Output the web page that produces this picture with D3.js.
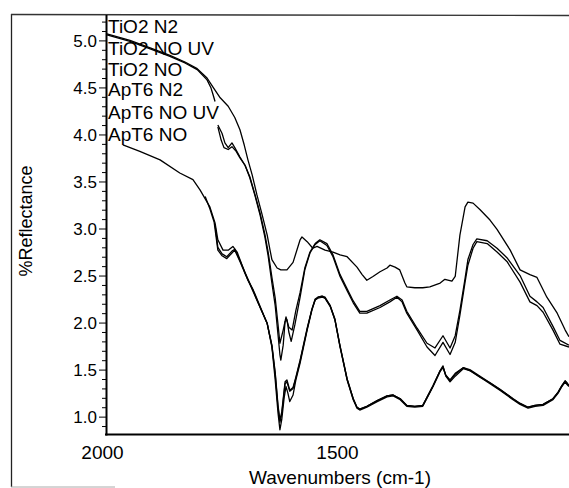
<!DOCTYPE html>
<html>
<head>
<meta charset="utf-8">
<script src="https://cdn.jsdelivr.net/npm/d3@7"></script>
<style>
  html, body { margin: 0; padding: 0; background: #fff; }
  svg { display: block; }
  text { font-family: "Liberation Sans", Arial, sans-serif; fill: #000; }
</style>
</head>
<body>
<svg id="chart" width="569" height="488"></svg>
<script>
// ---- data (wavenumber cm-1, %Reflectance) ----
const seriesNames = ["TiO2 N2", "TiO2 NO UV", "TiO2 NO", "ApT6 N2", "ApT6 NO UV", "ApT6 NO"];

const tio2N2 = [[1998,5.07],[1949,5.00],[1906,4.92],[1864,4.84],[1832,4.77],[1806,4.70],[1785,4.60],[1772,4.50],[1757,4.39],[1740,4.30],[1726,4.18],[1715,4.05],[1706,3.89],[1698,3.73],[1689,3.57],[1679,3.36],[1668,3.15],[1657,2.93],[1651,2.77],[1647,2.67],[1636,2.58],[1628,2.56],[1615,2.56],[1602,2.64],[1587,2.88],[1583,2.91],[1572,2.86],[1560,2.79],[1551,2.81],[1534,2.77],[1517,2.75],[1502,2.72],[1487,2.70],[1466,2.59],[1455,2.51],[1445,2.45],[1432,2.49],[1417,2.54],[1402,2.58],[1396,2.61],[1385,2.59],[1375,2.56],[1364,2.42],[1360,2.38],[1343,2.37],[1326,2.37],[1311,2.38],[1289,2.42],[1279,2.46],[1264,2.44],[1257,2.49],[1247,2.93],[1236,3.23],[1230,3.28],[1219,3.27],[1204,3.20],[1183,3.09],[1168,2.99],[1140,2.77],[1119,2.56],[1098,2.51],[1083,2.48],[1062,2.27],[1040,2.10],[1023,1.92],[1015,1.85]];

const tio2NOUV = [[1998,5.06],[1949,4.99],[1906,4.91],[1864,4.83],[1832,4.76],[1806,4.69],[1785,4.58],[1777,4.50],[1772,4.42],[1768,4.35],[1764,null],[1762,4.10],[1753,4.01],[1747,3.91],[1740,3.86],[1732,3.91],[1726,3.86],[1715,3.76],[1704,3.67],[1694,3.54],[1683,3.35],[1672,3.14],[1662,2.91],[1655,2.71],[1647,2.42],[1640,2.18],[1634,1.87],[1630,1.66],[1628,1.60],[1623,1.76],[1619,2.01],[1615,2.03],[1611,1.90],[1606,1.80],[1598,1.98],[1587,2.27],[1577,2.56],[1566,2.74],[1555,2.83],[1545,2.87],[1530,2.82],[1517,2.70],[1502,2.49],[1487,2.34],[1474,2.21],[1460,2.10],[1445,2.10],[1417,2.16],[1396,2.22],[1381,2.27],[1370,2.22],[1360,2.10],[1338,1.92],[1317,1.74],[1300,1.65],[1283,1.79],[1268,1.66],[1257,1.79],[1247,2.08],[1236,2.43],[1230,2.61],[1219,2.79],[1211,2.86],[1189,2.84],[1168,2.75],[1147,2.65],[1119,2.43],[1098,2.22],[1083,2.18],[1070,2.11],[1049,1.92],[1034,1.77],[1015,1.74]];

const tio2NO = [[1762,4.08],[1755,3.94],[1749,3.86],[1740,3.84],[1732,3.87],[1723,3.82],[1715,3.75],[1704,3.67],[1694,3.55],[1683,3.36],[1672,3.16],[1662,2.94],[1655,2.75],[1647,2.48],[1640,2.26],[1634,1.98],[1630,1.78],[1623,1.92],[1617,2.06],[1611,1.95],[1604,1.92],[1596,2.13],[1587,2.32],[1577,2.58],[1566,2.75],[1555,2.84],[1545,2.88],[1530,2.84],[1517,2.72],[1502,2.51],[1487,2.36],[1474,2.23],[1460,2.12],[1445,2.12],[1417,2.18],[1396,2.24],[1381,2.28],[1370,2.24],[1360,2.12],[1338,1.94],[1317,1.78],[1300,1.73],[1283,1.86],[1268,1.73],[1257,1.86],[1247,2.13],[1236,2.47],[1230,2.67],[1219,2.83],[1211,2.89],[1189,2.87],[1168,2.79],[1147,2.69],[1119,2.50],[1098,2.28],[1083,2.22],[1070,2.16],[1049,1.96],[1034,1.81],[1015,1.76]];

const apT6N2 = [[1964,3.89],[1928,3.82],[1885,3.73],[1843,3.59],[1815,3.52],[1800,3.41],[1779,3.23],[1768,3.06],[1762,2.88],[1751,2.77],[1740,2.77],[1730,2.81],[1721,2.75],[1709,2.59],[1698,2.45],[1687,2.35],[1672,2.17],[1657,1.99],[1647,1.74],[1640,1.39],[1634,1.04],[1630,0.86],[1626,0.97],[1621,1.20],[1617,1.32],[1613,1.25],[1609,1.16],[1602,1.23],[1596,1.39],[1587,1.57],[1572,1.92],[1562,2.13],[1555,2.24],[1549,2.26],[1540,2.27],[1534,2.26],[1523,2.17],[1513,2.03],[1502,1.74],[1487,1.39],[1474,1.18],[1466,1.09],[1460,1.07],[1445,1.10],[1423,1.16],[1402,1.21],[1389,1.22],[1374,1.18],[1360,1.11],[1343,1.10],[1326,1.11],[1304,1.32],[1289,1.48],[1283,1.52],[1277,1.44],[1268,1.39],[1257,1.46],[1240,1.52],[1226,1.49],[1204,1.42],[1183,1.35],[1162,1.28],[1134,1.18],[1119,1.13],[1102,1.09],[1087,1.11],[1070,1.12],[1049,1.18],[1038,1.25],[1030,1.32],[1023,1.37],[1019,1.34],[1015,1.32]];

const apT6NOUV = [[1789,3.34],[1779,3.21],[1770,3.07],[1762,2.77],[1753,2.71],[1743,2.68],[1732,2.74],[1726,2.77],[1715,2.65],[1704,2.52],[1687,2.33],[1672,2.16],[1657,1.99],[1647,1.76],[1640,1.47],[1634,1.12],[1630,0.96],[1626,1.05],[1619,1.37],[1615,1.39],[1609,1.28],[1602,1.31],[1596,1.42],[1587,1.60],[1572,1.94],[1562,2.14],[1555,2.24],[1549,2.27],[1540,2.28],[1534,2.26],[1523,2.18],[1513,2.03],[1502,1.75],[1487,1.40],[1474,1.19],[1466,1.10],[1460,1.08],[1445,1.11],[1423,1.17],[1402,1.22],[1389,1.23],[1374,1.19],[1360,1.12],[1343,1.11],[1326,1.12],[1304,1.33],[1289,1.49],[1283,1.54],[1277,1.43],[1268,1.37],[1257,1.43],[1240,1.51],[1226,1.49],[1204,1.42],[1183,1.36],[1162,1.29],[1134,1.19],[1119,1.14],[1102,1.10],[1087,1.12],[1070,1.13],[1049,1.19],[1038,1.26],[1030,1.33],[1023,1.38],[1019,1.35],[1015,1.33]];

const apT6NO = [[1768,3.04],[1762,2.80],[1753,2.73],[1743,2.70],[1732,2.76],[1726,2.78],[1715,2.66],[1704,2.53],[1687,2.34],[1672,2.16],[1657,1.99],[1647,1.75],[1640,1.45],[1634,1.10],[1630,0.94],[1626,1.03],[1619,1.35],[1615,1.37],[1609,1.27],[1602,1.30],[1596,1.41],[1587,1.59],[1572,1.93],[1562,2.14],[1555,2.25],[1549,2.27],[1540,2.28],[1534,2.27],[1523,2.18],[1513,2.04],[1502,1.75],[1487,1.40],[1474,1.19],[1466,1.10],[1460,1.08],[1445,1.11],[1423,1.17],[1402,1.22],[1389,1.23],[1374,1.19],[1360,1.12],[1343,1.11],[1326,1.12],[1304,1.33],[1289,1.49],[1283,1.53],[1277,1.44],[1268,1.38],[1257,1.45],[1240,1.52],[1226,1.50],[1204,1.43],[1183,1.36],[1162,1.29],[1134,1.19],[1119,1.14],[1102,1.10],[1087,1.12],[1070,1.13],[1049,1.19],[1038,1.26],[1030,1.33],[1023,1.38],[1019,1.36],[1015,1.33]];

const xTickValues = [2000, 1500];
const xTickLabels = ["2000", "1500"];
const yMajorTicks = [1.0, 1.5, 2.0, 2.5, 3.0, 3.5, 4.0, 4.5, 5.0];
const yMinorTicks = [0.9, 1.1, 1.2, 1.3, 1.4, 1.6, 1.7, 1.8, 1.9, 2.1, 2.2, 2.3, 2.4, 2.6, 2.7, 2.8, 2.9, 3.1, 3.2, 3.3, 3.4, 3.6, 3.7, 3.8, 3.9, 4.1, 4.2, 4.3, 4.4, 4.6, 4.7, 4.8, 4.9, 5.1, 5.2];
const xTitle = "Wavenumbers (cm-1)";
const yTitle = "%Reflectance";

// ---- drawing ----
const allSeries = [tio2N2, tio2NOUV, tio2NO, apT6N2, apT6NOUV, apT6NO];
const svg = d3.select("#chart");
const W = 569, H = 488;
const plotLeft = 106, plotTop = 15, plotBottom = 434.5;

svg.append("rect").attr("width", W).attr("height", H).attr("fill", "#fff");

// outer frame
svg.append("line").attr("x1", 11.5).attr("x2", 11.5).attr("y1", 14).attr("y2", 487).attr("stroke", "#222").attr("stroke-width", 1.3);
svg.append("line").attr("x1", 11).attr("x2", 569).attr("y1", 14.5).attr("y2", 15.5).attr("stroke", "#333").attr("stroke-width", 1.4);
svg.append("line").attr("x1", 11).attr("x2", 115).attr("y1", 487).attr("y2", 487).attr("stroke", "#aaa").attr("stroke-width", 1);

const x = d3.scaleLinear().domain([2000, 1000]).range([plotLeft, 576]);
const y = d3.scaleLinear().domain([0.81, 5.27]).range([plotBottom, plotTop]);

svg.append("defs").append("clipPath").attr("id", "plotclip")
  .append("rect").attr("x", plotLeft).attr("y", plotTop).attr("width", W - plotLeft).attr("height", plotBottom - plotTop);

// y axis major
const yAxisG = svg.append("g").attr("transform", `translate(${plotLeft},0)`)
  .call(d3.axisLeft(y).tickValues(yMajorTicks).tickFormat(d3.format(".1f")).tickSize(7).tickPadding(2));
yAxisG.select(".domain").remove();
yAxisG.selectAll(".tick line").attr("stroke", "#000").attr("stroke-width", 1);
yAxisG.selectAll(".tick text").style("font-size", "17px").attr("font-family", "Liberation Sans, Arial, sans-serif").attr("dy", "0.36em");

const yMinorG = svg.append("g").attr("transform", `translate(${plotLeft},0)`)
  .call(d3.axisLeft(y).tickValues(yMinorTicks).tickFormat("").tickSize(4));
yMinorG.select(".domain").remove();
yMinorG.selectAll(".tick line").attr("stroke", "#000").attr("stroke-width", 1);

// x axis
const xAxisG = svg.append("g").attr("transform", `translate(0,${plotBottom})`)
  .call(d3.axisBottom(x).tickValues(xTickValues).tickFormat((d, i) => xTickLabels[i]).tickSize(0).tickPadding(11));
xAxisG.select(".domain").remove();
xAxisG.selectAll(".tick text").style("font-size", "19px").attr("font-family", "Liberation Sans, Arial, sans-serif").attr("dx", "-4");

// axis lines
svg.append("line").attr("x1", plotLeft + 0.5).attr("x2", plotLeft + 0.5).attr("y1", plotTop).attr("y2", plotBottom + 1).attr("stroke", "#000").attr("stroke-width", 2);
svg.append("line").attr("x1", plotLeft - 1).attr("x2", W).attr("y1", plotBottom).attr("y2", plotBottom).attr("stroke", "#000").attr("stroke-width", 2.2);

// titles
svg.append("text").attr("x", 340).attr("y", 484).attr("text-anchor", "middle")
  .style("font-size", "19px").text(xTitle);
svg.append("text").attr("transform", "translate(32,221) rotate(-90)").attr("text-anchor", "middle")
  .style("font-size", "18px").text(yTitle);

// spectra
const line = d3.line()
  .defined(d => d[1] !== null)
  .x(d => x(d[0]))
  .y(d => y(d[1]))
  .curve(d3.curveLinear);

const plot = svg.append("g").attr("clip-path", "url(#plotclip)");
plot.selectAll("path.spec").data(allSeries).join("path")
  .attr("class", "spec")
  .attr("d", line)
  .attr("fill", "none")
  .attr("stroke", "#000")
  .attr("stroke-width", 1.3)
  .attr("stroke-linejoin", "round");

// legend labels
const legendY = [33, 55, 76, 96, 119, 141];
svg.selectAll("text.leg").data(seriesNames).join("text")
  .attr("class", "leg")
  .attr("x", 108)
  .attr("y", (d, i) => legendY[i])
  .style("font-size", "19px")
  .text(d => d);
</script>
</body>
</html>
